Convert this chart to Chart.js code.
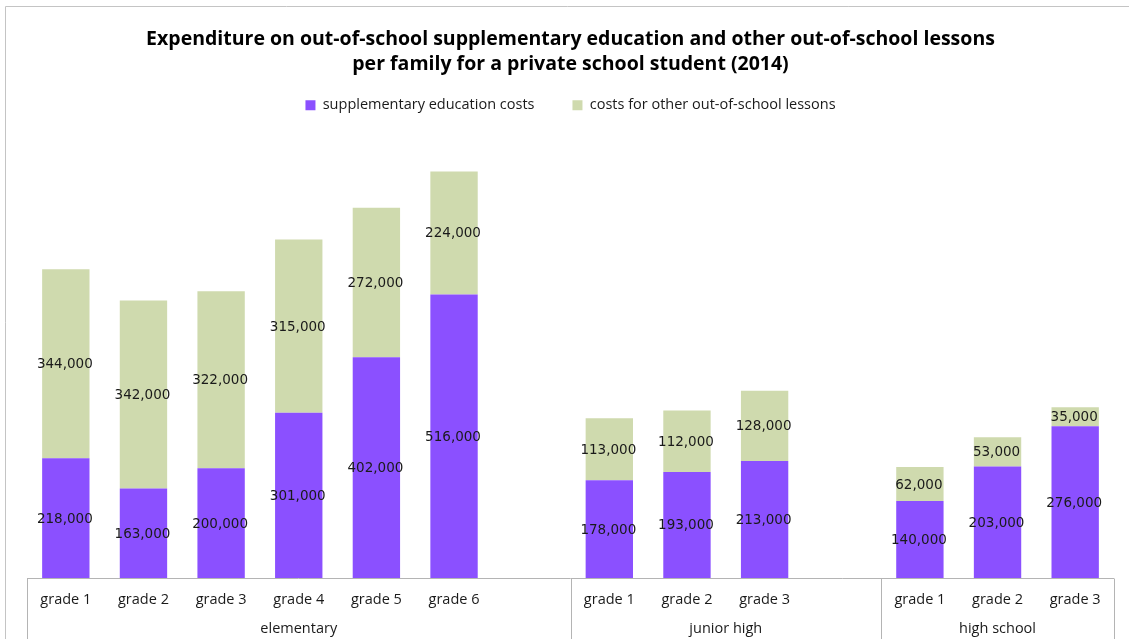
<!DOCTYPE html>
<html>
<head>
<meta charset="utf-8">
<title>Out-of-school expenditure (2014)</title>
<script src="https://cdn.jsdelivr.net/npm/chart.js@4.4.1/dist/chart.umd.min.js"></script>
<style>
  html, body { margin: 0; padding: 0; background: #fff; }
  #wrap { width: 1129px; height: 639px; }
</style>
</head>
<body>
<div id="wrap"><canvas id="chart" width="1129" height="639"></canvas></div>
<script>
// one slot per grade, an empty slot closes each school level
const gradeLabels = [
  "grade 1", "grade 2", "grade 3", "grade 4", "grade 5", "grade 6", "",
  "grade 1", "grade 2", "grade 3", "",
  "grade 1", "grade 2", "grade 3"
];
const supplementaryCosts = [218000, 163000, 200000, 301000, 402000, 516000, null, 178000, 193000, 213000, null, 140000, 203000, 276000];
const otherLessonCosts = [344000, 342000, 322000, 315000, 272000, 224000, null, 113000, 112000, 128000, null, 62000, 53000, 35000];
const schoolLevels = ["elementary", "junior high", "high school"];
const levelFirstSlot = [0, 7, 11];
const levelLastSlot = [6, 10, 13];
const yMax = 800000;

const PURPLE = "#8b50ff";
const GREEN = "#cfdaae";
const LINE_GRAY = "#b4b4b4";
const TEXT = "#1a1a1a";

function slotWidth(chart) {
  const a = chart.chartArea;
  return (a.right - a.left) / gradeLabels.length;
}

// light frame round the whole chart
const outerFrame = {
  id: "outerFrame",
  beforeDraw(chart) {
    const ctx = chart.ctx;
    ctx.save();
    ctx.strokeStyle = "#c4c4c4";
    ctx.lineWidth = 1;
    ctx.beginPath();
    ctx.moveTo(5.5, chart.height);
    ctx.lineTo(5.5, 6.5);
    ctx.lineTo(chart.width, 6.5);
    ctx.stroke();
    ctx.restore();
  }
};

// values written in the middle of every bar segment
const segmentLabels = {
  id: "segmentLabels",
  afterDatasetsDraw(chart) {
    const ctx = chart.ctx;
    ctx.save();
    ctx.font = "13.5px 'DejaVu Sans'";
    ctx.fillStyle = TEXT;
    ctx.textAlign = "center";
    ctx.textBaseline = "middle";
    chart.data.datasets.forEach((ds, di) => {
      chart.getDatasetMeta(di).data.forEach((bar, i) => {
        const v = ds.data[i];
        if (v == null) return;
        ctx.fillText(v.toLocaleString("en-US"), bar.x - 1, (bar.y + bar.base) / 2 + 1);
      });
    });
    ctx.restore();
  }
};

// axis box with the school level row underneath
const levelAxis = {
  id: "levelAxis",
  afterDraw(chart) {
    const ctx = chart.ctx;
    const a = chart.chartArea;
    const x = chart.scales.x;
    const half = slotWidth(chart) / 2;
    const bottom = Math.round(a.bottom) + 0.5;
    ctx.save();
    ctx.strokeStyle = LINE_GRAY;
    ctx.lineWidth = 1;
    ctx.beginPath();
    ctx.moveTo(a.left, bottom);
    ctx.lineTo(a.right, bottom);
    const edges = levelFirstSlot.map(i => x.getPixelForValue(i) - half);
    edges.push(x.getPixelForValue(levelLastSlot[levelLastSlot.length - 1]) + half);
    edges.forEach(px => {
      const e = Math.round(px) + 0.5;
      ctx.moveTo(e, bottom);
      ctx.lineTo(e, chart.height);
    });
    ctx.stroke();

    ctx.font = "14.5px 'Open Sans'";
    ctx.fillStyle = TEXT;
    ctx.textAlign = "center";
    ctx.textBaseline = "middle";
    schoolLevels.forEach((name, k) => {
      const l = x.getPixelForValue(levelFirstSlot[k]) - half;
      const r = x.getPixelForValue(levelLastSlot[k]) + half;
      ctx.fillText(name, (l + r) / 2, a.bottom + 51);
    });
    ctx.restore();
  }
};

// room between the legend and the bars
const legendGap = {
  id: "legendGap",
  beforeInit(chart) {
    const fit = chart.legend.fit;
    chart.legend.fit = function () {
      fit.call(this);
      this.height += 16;
    };
  }
};

new Chart(document.getElementById("chart"), {
  type: "bar",
  data: {
    labels: gradeLabels,
    datasets: [
      { label: "supplementary education costs", data: supplementaryCosts, backgroundColor: PURPLE },
      { label: "costs for other out-of-school lessons", data: otherLessonCosts, backgroundColor: GREEN }
    ]
  },
  options: {
    responsive: false,
    animation: false,
    devicePixelRatio: 1,
    layout: { padding: { left: 27, right: 15, top: 0, bottom: 0 } },
    datasets: { bar: { categoryPercentage: 1, barPercentage: 0.61 } },
    scales: {
      x: {
        stacked: true,
        grid: { display: false, drawTicks: false },
        border: { display: false },
        ticks: {
          autoSkip: false, maxRotation: 0, padding: 13,
          color: TEXT, font: { family: "Open Sans", size: 14.5 }
        },
        afterFit(scale) { scale.height = 61; }
      },
      y: {
        stacked: true, display: false, min: 0, max: yMax
      }
    },
    plugins: {
      title: {
        display: true,
        text: [
          "Expenditure on out-of-school supplementary education and other out-of-school lessons",
          "per family for a private school student (2014)"
        ],
        color: "#000",
        font: { family: "Open Sans", size: 19.5, weight: "bold", lineHeight: 25 / 19.5 },
        padding: { top: 27, bottom: -17 }
      },
      legend: {
        display: true,
        position: "top",
        labels: {
          boxWidth: 10, boxHeight: 10, padding: 38,
          color: TEXT, font: { family: "Open Sans", size: 14.5 }
        }
      },
      tooltip: { enabled: false }
    }
  },
  plugins: [outerFrame, segmentLabels, levelAxis, legendGap]
});
</script>
</body>
</html>
